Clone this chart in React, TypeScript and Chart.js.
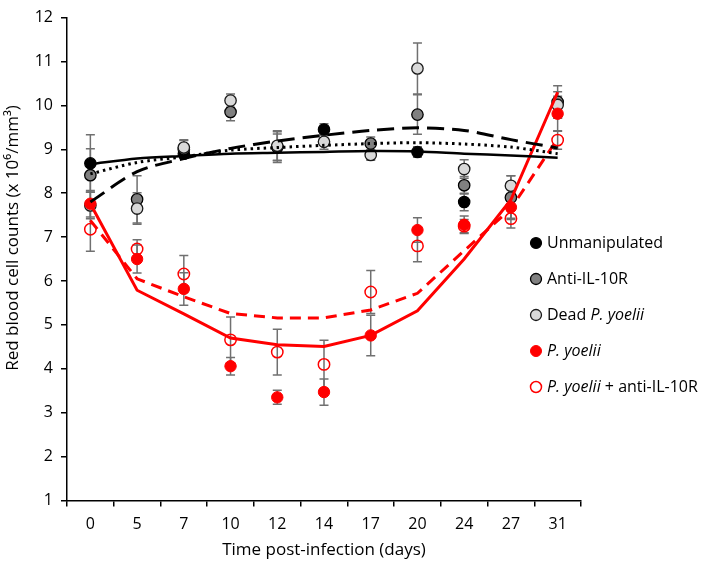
import React, { useEffect, useRef } from "react";
import { Chart, registerables } from "chart.js";
Chart.register(...registerables);

const FONT = "'Open Sans', sans-serif";

const days = ["0", "5", "7", "10", "12", "14", "17", "20", "24", "27", "31"];
const yMin = 1;
const yMax = 12;

// Mean values (x 10^6 / mm^3); null = not shown
const unmanipulated = [8.68, null, 8.9, null, 9.05, 9.45, null, 8.94, 7.8, null, null];
const unmanipulatedErr = [0.65, 0, 0.1, 0, 0.3, 0.13, 0, 0.12, 0.2, 0, 0];

const antiIL10R = [8.41, 7.86, 9.0, 9.85, 9.05, null, 9.13, 9.79, 8.18, 7.9, 10.08];
const antiIL10RErr = [0.6, 0.54, 0.2, 0.2, 0.35, 0, 0.15, 0.45, 0.2, 0.5, 0.37];

const deadPy = [7.72, 7.65, 9.04, 10.11, 9.08, 9.17, 8.87, 10.84, 8.55, 8.17, 10.01];
const deadPyErr = [0.3, 0.36, 0.18, 0.15, 0.34, 0.17, 0.12, 0.58, 0.21, 0.23, 0.3];

const pYoelii = [7.76, 6.5, 5.82, 4.06, 3.35, 3.47, 4.76, 7.16, 7.28, 7.68, 9.81];
const pYoeliiErr = [0.3, 0.32, 0.37, 0.2, 0.16, 0.3, 0.46, 0.28, 0.2, 0.25, 0.4];

const pYoeliiAnti = [7.18, 6.73, 6.16, 4.66, 4.38, 4.1, 5.75, 6.8, 7.25, 7.42, 9.21];
const pYoeliiAntiErr = [0.5, 0.21, 0.42, 0.52, 0.52, 0.55, 0.49, 0.36, 0.15, 0.21, 0.21];

// Trend lines
const trendUnmanipulated = [8.66, 8.79, 8.85, 8.9, 8.92, 8.94, 8.96, 8.95, 8.9, 8.86, 8.81];
const trendAntiIL10R = [8.44, 8.7, 8.83, 8.98, 9.04, 9.09, 9.13, 9.15, 9.12, 9.05, 8.9];
const trendDeadPy = [7.8, 8.49, 8.79, 9.02, 9.19, 9.32, 9.43, 9.49, 9.43, 9.22, 9.03];
const trendPYoelii = [7.76, 5.79, 5.25, 4.7, 4.55, 4.51, 4.76, 5.32, 6.5, 7.85, 10.3];
const trendPYoeliiAnti = [7.38, 6.05, 5.64, 5.26, 5.16, 5.16, 5.34, 5.72, 6.69, 7.65, 9.24];

const pointStyles = [
  { fill: "#000000", stroke: "#000000", bw: 1.2 },
  { fill: "#808080", stroke: "#000000", bw: 1.3 },
  { fill: "#d9d9d9", stroke: "#1a1a1a", bw: 1.3 },
  { fill: "#ff0000", stroke: "#ff0000", bw: 1 },
  { fill: "rgba(255,255,255,0)", stroke: "#ff0000", bw: 1.5 },
];

const seriesValues = [unmanipulated, antiIL10R, deadPy, pYoelii, pYoeliiAnti];
const seriesErrors = [unmanipulatedErr, antiIL10RErr, deadPyErr, pYoeliiErr, pYoeliiAntiErr];
const seriesNames = ["Unmanipulated", "Anti-IL-10R", "Dead P. yoelii", "P. yoelii", "P. yoelii + anti-IL-10R"];

// Legend text segments: [text, italic]
const legendSegments: [string, boolean][][] = [
  [["Unmanipulated", false]],
  [["Anti-IL-10R", false]],
  [["Dead ", false], ["P. yoelii", true]],
  [["P. yoelii", true]],
  [["P. yoelii", true], [" + anti-IL-10R", false]],
];

const xTitle = "Time post-infection (days)";
const yTitle = "Red blood cell counts (x 10\u2076/mm\u00B3)";

const errorBarPlugin = {
  id: "errorBars",
  beforeDatasetsDraw(chart: any) {
    const { ctx, scales } = chart;
    const xs = scales.x;
    const ys = scales.y;
    ctx.save();
    ctx.strokeStyle = "#707070";
    ctx.lineWidth = 1.5;
    seriesValues.forEach((vals, s) => {
      vals.forEach((v, i) => {
        if (v === null) return;
        const e = seriesErrors[s][i];
        if (!e) return;
        const x = xs.getPixelForValue(i);
        const yt = ys.getPixelForValue(v + e);
        const yb = ys.getPixelForValue(v - e);
        ctx.beginPath();
        ctx.moveTo(x, yt);
        ctx.lineTo(x, yb);
        ctx.moveTo(x - 4.5, yt);
        ctx.lineTo(x + 4.5, yt);
        ctx.moveTo(x - 4.5, yb);
        ctx.lineTo(x + 4.5, yb);
        ctx.stroke();
      });
    });
    ctx.restore();
  },
};

const textPlugin = {
  id: "texts",
  afterDraw(chart: any) {
    const { ctx } = chart;
    ctx.save();
    ctx.fillStyle = "#000";
    ctx.font = `17px ${FONT}`;
    ctx.textAlign = "center";
    ctx.textBaseline = "middle";
    // x title
    ctx.fillText(xTitle, 324, 550);
    // y title
    ctx.save();
    ctx.translate(13, 238);
    ctx.rotate(-Math.PI / 2);
    ctx.fillText(yTitle, 0, 0);
    ctx.restore();
    // legend
    const lx = 536;
    const tx = 547;
    const ly0 = 243;
    const dy = 36;
    legendSegments.forEach((segs, k) => {
      const y = ly0 + k * dy;
      const st = pointStyles[k];
      ctx.beginPath();
      ctx.arc(lx, y, 5.5, 0, Math.PI * 2);
      ctx.fillStyle = st.fill;
      ctx.fill();
      ctx.lineWidth = st.bw;
      ctx.strokeStyle = st.stroke;
      ctx.stroke();
      let x = tx;
      ctx.textAlign = "left";
      ctx.fillStyle = "#000";
      segs.forEach(([t, it]) => {
        ctx.font = `${it ? "italic " : ""}16px ${FONT}`;
        ctx.fillText(t, x, y);
        x += ctx.measureText(t).width;
      });
    });
    ctx.restore();
  },
};

export default function App() {
  const ref = useRef<HTMLCanvasElement | null>(null);
  useEffect(() => {
    document.body.style.margin = "0";
    const canvas = ref.current;
    if (!canvas) return;
    const pointDatasets = seriesValues.map((vals, s) => ({
      type: "line" as const,
      label: seriesNames[s],
      data: vals,
      showLine: false,
      pointRadius: 5.7,
      pointBackgroundColor: pointStyles[s].fill,
      pointBorderColor: pointStyles[s].stroke,
      pointBorderWidth: pointStyles[s].bw,
      order: 10 - s,
    }));
    const trendDatasets = [
      { data: trendUnmanipulated, borderColor: "#000", borderWidth: 2.5, borderDash: [] as number[] },
      { data: trendAntiIL10R, borderColor: "#000", borderWidth: 3, borderDash: [2.5, 4] },
      { data: trendDeadPy, borderColor: "#000", borderWidth: 3, borderDash: [17, 8] },
      { data: trendPYoelii, borderColor: "#ff0000", borderWidth: 3, borderDash: [] as number[] },
      { data: trendPYoeliiAnti, borderColor: "#ff0000", borderWidth: 3, borderDash: [11, 7] },
    ].map((d, k) => ({
      type: "line" as const,
      label: "trend " + k,
      data: d.data,
      borderColor: d.borderColor,
      borderWidth: d.borderWidth,
      borderDash: d.borderDash,
      pointRadius: 0,
      tension: k < 3 ? 0.3 : 0,
      fill: false,
      order: 1,
    }));
    const chart = new Chart(canvas, {
      type: "line",
      data: { labels: days, datasets: [...pointDatasets, ...trendDatasets] as any },
      options: {
        responsive: false,
        animation: false,
        devicePixelRatio: 1,
        layout: { padding: { left: 0, right: 128, top: 12.5, bottom: 0 } },
        plugins: { legend: { display: false }, tooltip: { enabled: false } },
        scales: {
          x: {
            type: "category",
            offset: true,
            grid: {
              display: true,
              drawOnChartArea: false,
              drawTicks: true,
              tickLength: 6,
              color: "#000",
              lineWidth: 1.5,
              offset: true,
            },
            border: { display: true, color: "#000", width: 1.5 },
            ticks: {
              color: "#000",
              font: { family: FONT, size: 16 },
              padding: 8,
              maxRotation: 0,
              autoSkip: false,
            },
            afterFit: (s: any) => {
              s.height = 68.5;
            },
          },
          y: {
            type: "linear",
            min: yMin,
            max: yMax,
            ticks: {
              stepSize: 1,
              color: "#000",
              font: { family: FONT, size: 16 },
              padding: 8,
            },
            grid: {
              display: true,
              drawOnChartArea: false,
              drawTicks: true,
              tickLength: 6,
              color: "#000",
              lineWidth: 1.5,
            },
            border: { display: true, color: "#000", width: 1.5 },
            afterFit: (s: any) => {
              s.width = 67;
            },
          },
        },
      },
      plugins: [errorBarPlugin, textPlugin],
    });
    return () => chart.destroy();
  }, []);
  return (
    <div style={{ position: "absolute", left: 0, top: 0, width: 709, height: 569 }}>
      <canvas ref={ref} width={709} height={569} style={{ width: 709, height: 569 }} />
    </div>
  );
}
